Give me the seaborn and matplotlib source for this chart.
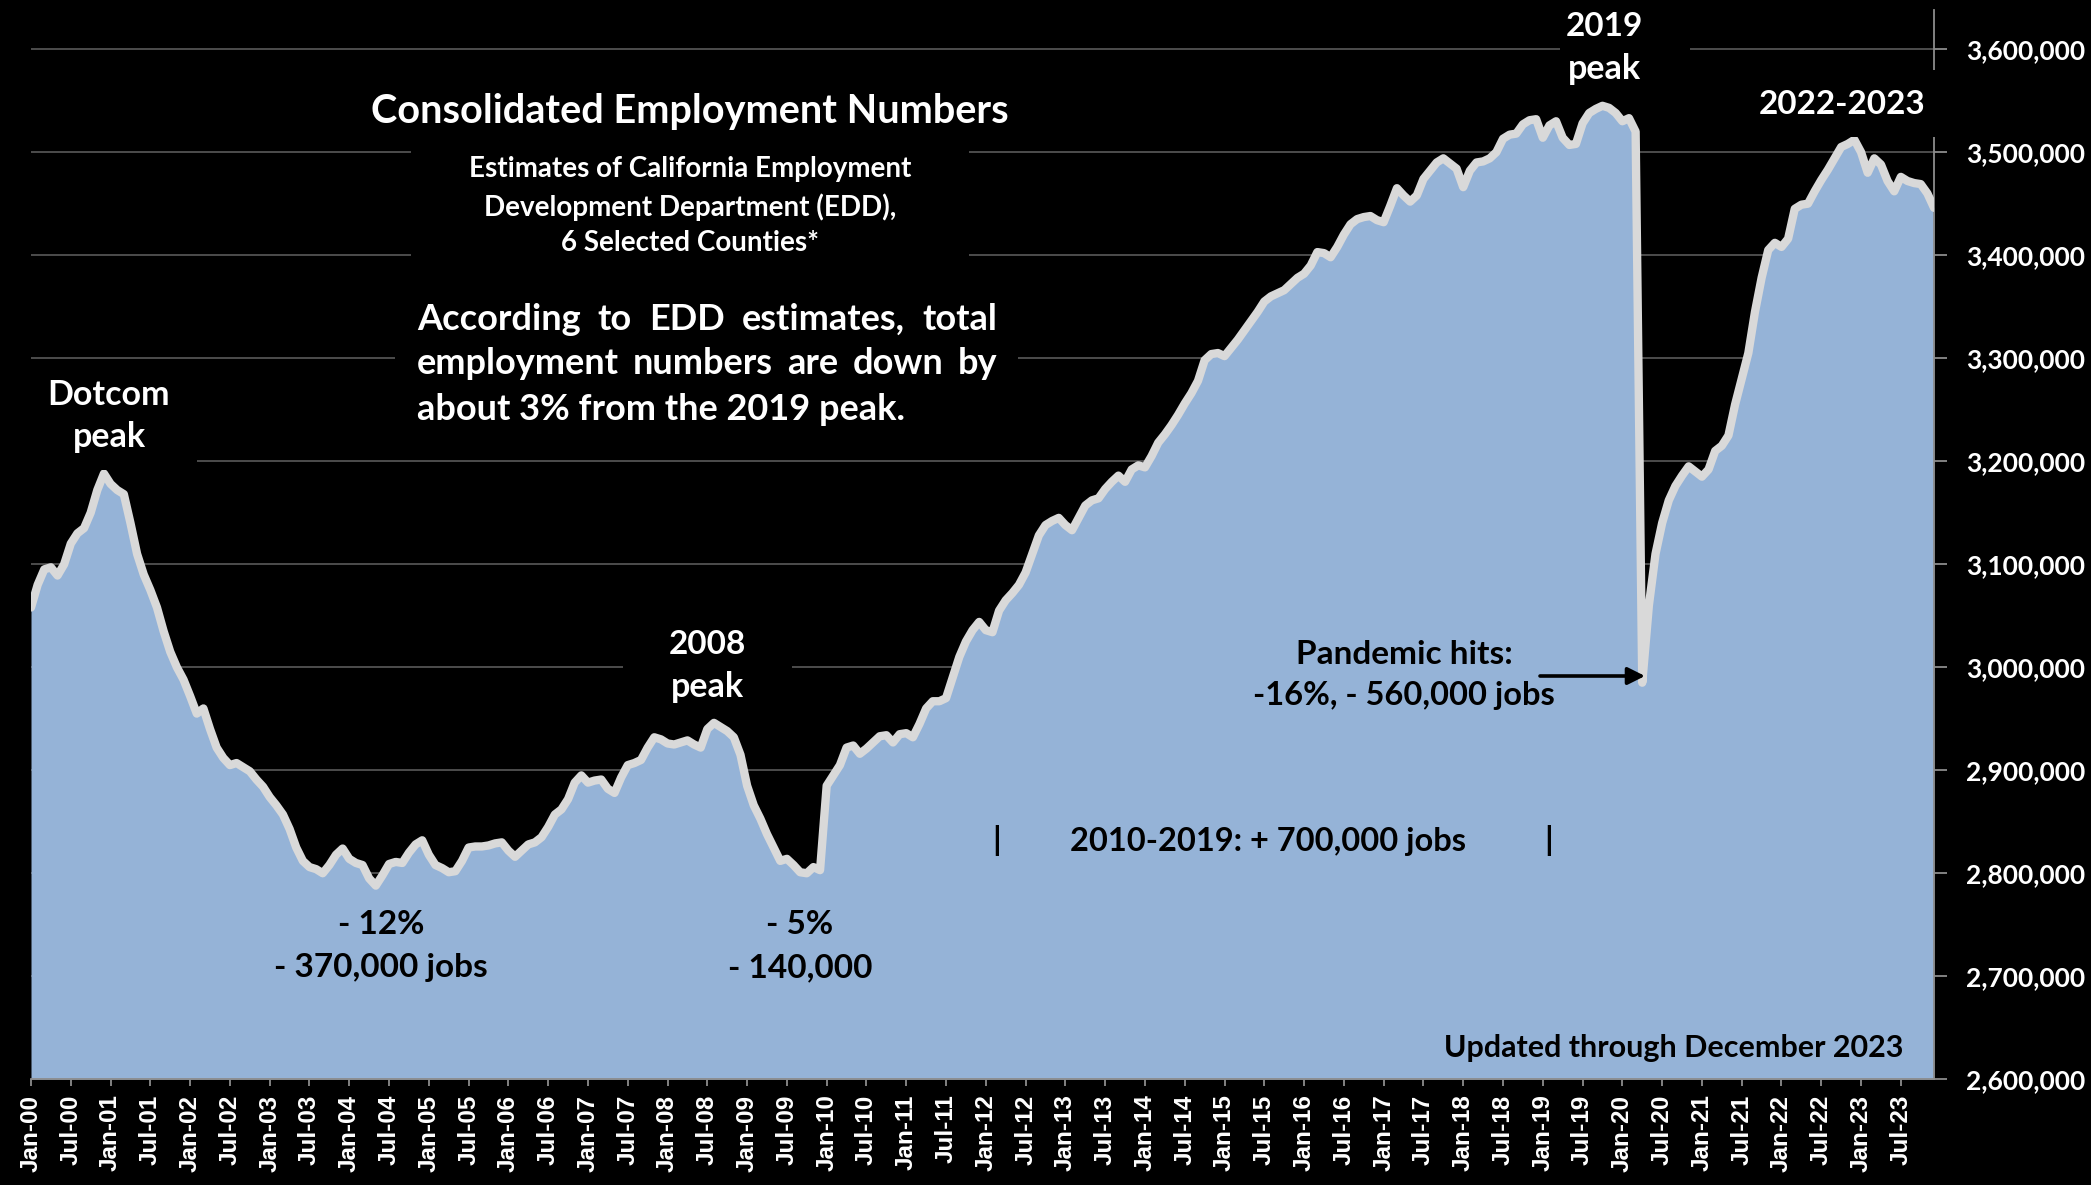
import numpy as np
import pandas as pd
import matplotlib
matplotlib.use("Agg")
import matplotlib.pyplot as plt
from matplotlib.patches import Rectangle
import seaborn as sns

# Total employment, six selected California counties (EDD estimates), monthly
emp_2000 = [3058000, 3080000, 3095000, 3097000, 3089000, 3100000, 3120000, 3130000, 3135000, 3150000, 3172000, 3188000]
emp_2001 = [3178000, 3172000, 3168000, 3140000, 3110000, 3090000, 3075000, 3058000, 3035000, 3015000, 3000000, 2988000]
emp_2002 = [2972000, 2955000, 2960000, 2940000, 2922000, 2912000, 2905000, 2907000, 2903000, 2899000, 2891000, 2884000]
emp_2003 = [2874000, 2866000, 2857000, 2843000, 2825000, 2812000, 2806000, 2804000, 2800000, 2808000, 2818000, 2824000]
emp_2004 = [2814000, 2810000, 2808000, 2795000, 2788000, 2798000, 2809000, 2811000, 2810000, 2820000, 2828000, 2832000]
emp_2005 = [2818000, 2808000, 2805000, 2801000, 2802000, 2812000, 2825000, 2826000, 2826000, 2827000, 2829000, 2830000]
emp_2006 = [2822000, 2816000, 2822000, 2828000, 2830000, 2835000, 2845000, 2857000, 2862000, 2872000, 2888000, 2895000]
emp_2007 = [2888000, 2890000, 2891000, 2882000, 2878000, 2893000, 2905000, 2907000, 2910000, 2922000, 2932000, 2930000]
emp_2008 = [2926000, 2925000, 2927000, 2929000, 2925000, 2922000, 2940000, 2946000, 2942000, 2938000, 2932000, 2915000]
emp_2009 = [2885000, 2866000, 2853000, 2838000, 2825000, 2812000, 2814000, 2808000, 2801000, 2800000, 2806000, 2803000]
emp_2010 = [2885000, 2895000, 2905000, 2922000, 2924000, 2916000, 2921000, 2927000, 2933000, 2934000, 2927000, 2935000]
emp_2011 = [2936000, 2932000, 2945000, 2960000, 2967000, 2967000, 2970000, 2990000, 3010000, 3025000, 3036000, 3044000]
emp_2012 = [3036000, 3034000, 3055000, 3065000, 3072000, 3080000, 3092000, 3110000, 3128000, 3138000, 3142000, 3145000]
emp_2013 = [3138000, 3133000, 3145000, 3157000, 3162000, 3164000, 3173000, 3180000, 3186000, 3180000, 3192000, 3196000]
emp_2014 = [3194000, 3205000, 3218000, 3226000, 3235000, 3245000, 3256000, 3266000, 3278000, 3298000, 3304000, 3305000]
emp_2015 = [3302000, 3310000, 3318000, 3327000, 3336000, 3345000, 3355000, 3360000, 3363000, 3366000, 3372000, 3378000]
emp_2016 = [3382000, 3390000, 3403000, 3402000, 3398000, 3408000, 3420000, 3430000, 3435000, 3437000, 3438000, 3434000]
emp_2017 = [3432000, 3448000, 3465000, 3458000, 3452000, 3458000, 3474000, 3482000, 3490000, 3494000, 3489000, 3484000]
emp_2018 = [3466000, 3482000, 3490000, 3491000, 3494000, 3500000, 3513000, 3517000, 3518000, 3527000, 3531000, 3532000]
emp_2019 = [3514000, 3526000, 3530000, 3514000, 3507000, 3508000, 3528000, 3538000, 3542000, 3545000, 3543000, 3538000]
emp_2020 = [3530000, 3533000, 3520000, 2985000, 3060000, 3110000, 3140000, 3162000, 3176000, 3186000, 3195000, 3190000]
emp_2021 = [3185000, 3192000, 3210000, 3215000, 3225000, 3255000, 3280000, 3305000, 3345000, 3378000, 3405000, 3412000]
emp_2022 = [3408000, 3416000, 3445000, 3449000, 3450000, 3462000, 3473000, 3483000, 3494000, 3505000, 3508000, 3512000]
emp_2023 = [3500000, 3480000, 3494000, 3488000, 3472000, 3462000, 3476000, 3472000, 3470000, 3469000, 3460000, 3446000]

yearly = [emp_2000, emp_2001, emp_2002, emp_2003, emp_2004, emp_2005, emp_2006, emp_2007,
          emp_2008, emp_2009, emp_2010, emp_2011, emp_2012, emp_2013, emp_2014, emp_2015,
          emp_2016, emp_2017, emp_2018, emp_2019, emp_2020, emp_2021, emp_2022, emp_2023]
employment = [v for year in yearly for v in year]

dates = pd.date_range("2000-01-01", periods=len(employment), freq="MS")
df = pd.DataFrame({"month": np.arange(len(employment)), "employment": employment})

y_ticks = list(range(2_600_000, 3_600_001, 100_000))
x_ticks = list(range(0, len(employment), 6))
x_labels = [f"{d:%b}-{d:%y}" for d in dates[x_ticks]]

AREA = "#95B3D7"
LINE = "#D9D9D9"
GRID = "#595959"
AXIS = "#8C8C8C"

sns.set_theme(style="dark", rc={"axes.facecolor": "black", "figure.facecolor": "black"})
plt.rcParams["font.family"] = ["Lato", "DejaVu Sans"]

W, H, DPI = 2091, 1185, 100
fig = plt.figure(figsize=(W / DPI, H / DPI), dpi=DPI, facecolor="black")


def fx(x):
    return x / W


def fy(y):
    return 1 - y / H


ax = fig.add_axes([fx(31), fy(1079.3), (1934 - 31) / W, (1079.3 - 10) / H])
ax.set_facecolor("black")

y_min, y_max = 2_600_000, 3_638_000
ax.fill_between(df["month"], df["employment"], y_min, color=AREA, lw=0, zorder=2)
sns.lineplot(data=df, x="month", y="employment", ax=ax, color=LINE, lw=6, zorder=3,
             solid_joinstyle="round", solid_capstyle="round")

ax.set_xlim(0, len(employment) - 1)
ax.set_ylim(y_min, y_max)
ax.set_xlabel("")
ax.set_ylabel("")

ax.yaxis.tick_right()
ax.set_yticks(y_ticks)
ax.set_yticklabels([f"{v:,}" for v in y_ticks], color="white", fontsize=19, fontweight="bold")
ax.set_xticks(x_ticks)
ax.set_xticklabels(x_labels, rotation=90, color="white", fontsize=17.5, fontweight="bold",
                   fontfamily=["Liberation Sans", "DejaVu Sans"])
ax.tick_params(axis="y", which="major", right=True, left=False, length=9, width=1.3,
               color=AXIS, pad=14)
ax.tick_params(axis="x", which="major", bottom=True, length=5, width=1.3, color=AXIS, pad=6)

ax.set_axisbelow(True)
ax.yaxis.grid(True, color=GRID, lw=1.2)
ax.xaxis.grid(False)
for side in ("top", "left"):
    ax.spines[side].set_visible(False)
for side in ("right", "bottom"):
    ax.spines[side].set_visible(True)
    ax.spines[side].set_color(AXIS)
    ax.spines[side].set_linewidth(1.3)

# black backing panels behind the annotation text, so gridlines stop at the text
panels = [(411, 140, 969, 268), (395, 292, 1018, 432), (31, 372, 197, 470),
          (623, 618, 792, 700), (1560, 0, 1690, 92), (1755, 70, 1950, 137)]
for x0, y0, x1, y1 in panels:
    fig.add_artist(Rectangle((fx(x0), fy(y1)), (x1 - x0) / W, (y1 - y0) / H,
                             transform=fig.transFigure, facecolor="black",
                             edgecolor="none", zorder=1))


def label(x, y, s, size, color="white", ha="center"):
    fig.text(fx(x), fy(y), s, ha=ha, va="center", color=color, fontsize=size,
             fontweight="bold", zorder=5)


label(690, 111, "Consolidated Employment Numbers", 28.5)
label(690, 169, "Estimates of California Employment", 20)
label(690, 207, "Development Department (EDD),", 20)
label(690, 243, "6 Selected Counties*", 20)

renderer = fig.canvas.get_renderer()


def justified(y, text, x0, x1, size):
    words = text.split()
    items = [fig.text(0, fy(y), w, ha="left", va="center", color="white", fontsize=size,
                      fontweight="bold", zorder=5) for w in words]
    widths = [t.get_window_extent(renderer).width for t in items]
    gap = (x1 - x0 - sum(widths)) / (len(words) - 1)
    x = x0
    for t, w in zip(items, widths):
        t.set_x(fx(x))
        x += w + gap


PARA = 26
justified(319, "According to EDD estimates, total", 417, 997, PARA)
justified(364, "employment numbers are down by", 417, 997, PARA)
label(417, 409, "about 3% from the 2019 peak.", PARA, ha="left")

PEAK = 24.5
label(109, 395, "Dotcom", PEAK)
label(109, 437, "peak", PEAK)
label(707, 644, "2008", 24)
label(707, 687, "peak", PEAK)
label(1604, 27, "2019", 24)
label(1604, 69, "peak", PEAK)
label(1842, 104, "2022-2023", 24)

NOTE = 24
label(381, 925, "- 12%", NOTE, color="black")
label(381, 968, "- 370,000 jobs", NOTE, color="black")
label(800, 925, "- 5%", NOTE, color="black")
label(800, 968, "- 140,000", NOTE, color="black")
label(1404, 655, "Pandemic hits:", NOTE, color="black")
label(1404, 696, "-16%, - 560,000 jobs", 23.5, color="black")
label(997, 841, "|", NOTE, color="black")
label(1268, 841, "2010-2019: + 700,000 jobs", 23.5, color="black")
label(1549, 841, "|", NOTE, color="black")
label(1903, 1048, "Updated through December 2023", 22, color="black", ha="right")

ax.annotate("", xy=(fx(1645), fy(676)), xycoords="figure fraction",
            xytext=(fx(1540), fy(676)), textcoords="figure fraction",
            arrowprops=dict(arrowstyle="-|>", color="black", lw=2.6, mutation_scale=26,
                            shrinkA=0, shrinkB=0), zorder=6)

fig.savefig("out.png", dpi=DPI, facecolor="black")
